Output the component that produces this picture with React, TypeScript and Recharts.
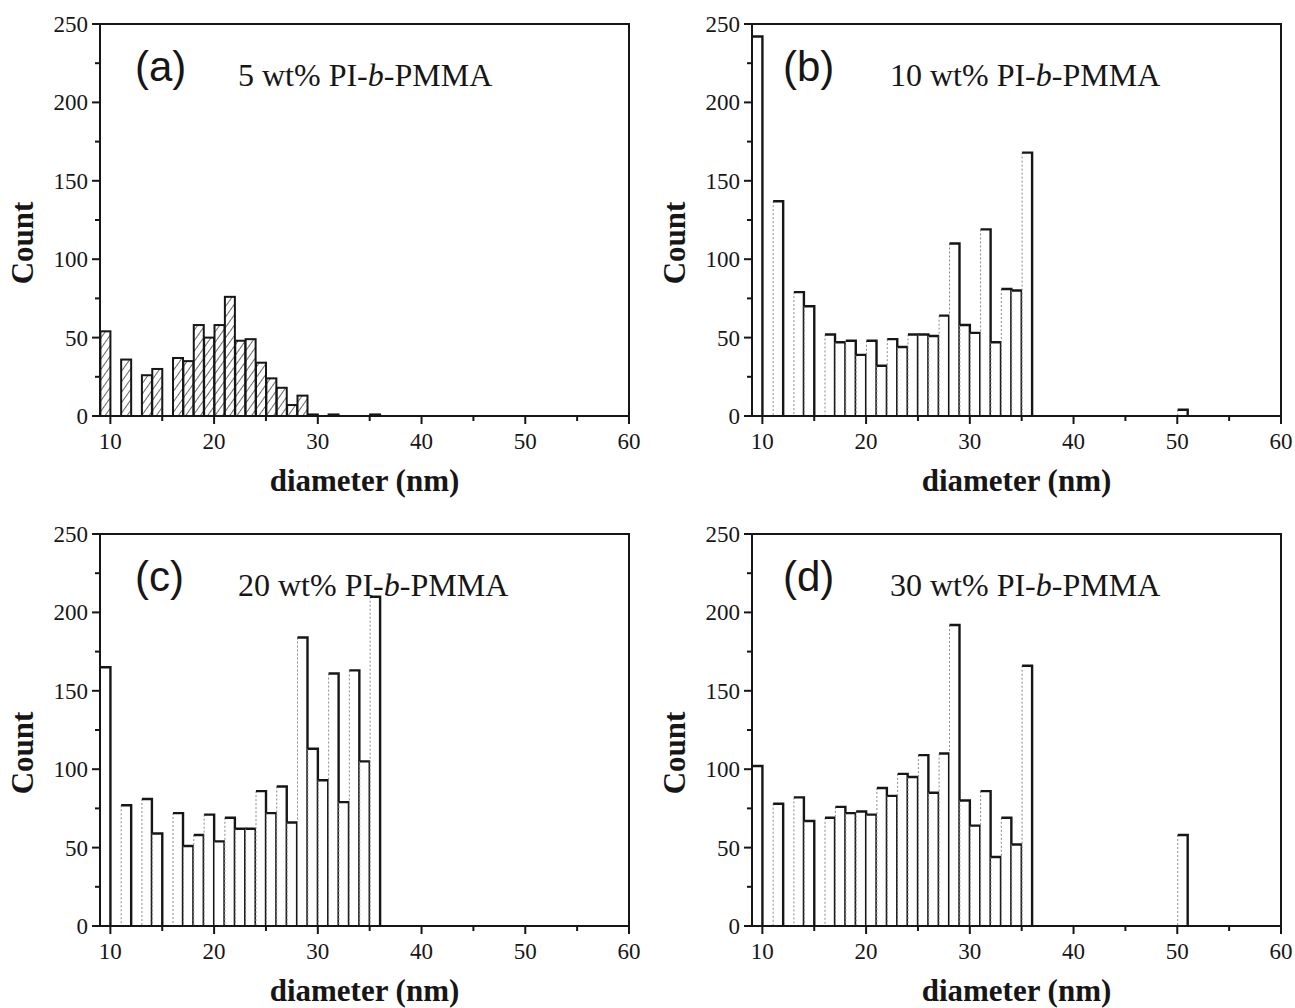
import React from "react";
import { BarChart, Bar, XAxis, YAxis, ReferenceArea, Label } from "recharts";

// bin centres (nm) and counts
const diametersA = [9.5, 11.5, 13.5, 14.5, 16.5, 17.5, 18.5, 19.5, 20.5, 21.5, 22.5, 23.5, 24.5, 25.5, 26.5, 27.5, 28.5, 29.5, 31.5, 35.5];
const countsA = [54, 36, 26, 30, 37, 35, 58, 50, 58, 76, 48, 49, 34, 24, 18, 7, 13, 1, 1, 1];

const diametersB = [9.5, 11.5, 13.5, 14.5, 16.5, 17.5, 18.5, 19.5, 20.5, 21.5, 22.5, 23.5, 24.5, 25.5, 26.5, 27.5, 28.5, 29.5, 30.5, 31.5, 32.5, 33.5, 34.5, 35.5, 50.5];
const countsB = [242, 137, 79, 70, 52, 47, 48, 39, 48, 32, 49, 44, 52, 52, 51, 64, 110, 58, 53, 119, 47, 81, 80, 168, 4];

const diametersC = [9.5, 11.5, 13.5, 14.5, 16.5, 17.5, 18.5, 19.5, 20.5, 21.5, 22.5, 23.5, 24.5, 25.5, 26.5, 27.5, 28.5, 29.5, 30.5, 31.5, 32.5, 33.5, 34.5, 35.5];
const countsC = [165, 77, 81, 59, 72, 51, 58, 71, 54, 69, 62, 62, 86, 72, 89, 66, 184, 113, 93, 161, 79, 163, 105, 210];

const diametersD = [9.5, 11.5, 13.5, 14.5, 16.5, 17.5, 18.5, 19.5, 20.5, 21.5, 22.5, 23.5, 24.5, 25.5, 26.5, 27.5, 28.5, 29.5, 30.5, 31.5, 32.5, 33.5, 34.5, 35.5, 50.5];
const countsD = [102, 78, 82, 67, 69, 76, 72, 73, 71, 88, 83, 97, 95, 109, 85, 110, 192, 80, 64, 86, 44, 69, 52, 166, 58];

const xTicks = [10, 15, 20, 25, 30, 35, 40, 45, 50, 55, 60];
const yTicks = [0, 25, 50, 75, 100, 125, 150, 175, 200, 225, 250];

const panelLetters = ["(a)", "(b)", "(c)", "(d)"];
const panelWt = ["5", "10", "20", "30"];

const SERIF = "'Liberation Serif', 'Times New Roman', serif";
const SANS = "'Liberation Sans', Arial, sans-serif";
const INK = "#161616";

const W = 652;
const H = 510;

const XTick = (props: any) => {
  const { x, y, payload } = props;
  const major = payload.value % 10 === 0;
  return (
    <g>
      <line x1={x} x2={x} y1={y} y2={y + (major ? 8 : 5)} stroke={INK} strokeWidth={2} />
      {major && (
        <text x={x} y={y + 33} textAnchor="middle" fontFamily={SERIF} fontSize={23} fill={INK}>
          {payload.value}
        </text>
      )}
    </g>
  );
};

const YTick = (props: any) => {
  const { x, y, payload } = props;
  const major = payload.value % 50 === 0;
  return (
    <g>
      <line x1={x} x2={x - (major ? 8 : 5)} y1={y} y2={y} stroke={INK} strokeWidth={2} />
      {major && (
        <text x={x - 12} y={y + 8} textAnchor="end" fontFamily={SERIF} fontSize={23} fill={INK}>
          {payload.value}
        </text>
      )}
    </g>
  );
};

const HatchBar = (props: any) => {
  const { x, y, width, height } = props;
  if (!height || height <= 0) return <g />;
  return <rect x={x} y={y} width={width} height={height} fill="url(#hatch)" stroke={INK} strokeWidth={2} />;
};

// white bars: grey dotted left side, black top and heavy black right side
const OpenBar = (props: any) => {
  const { x, y, width, height } = props;
  if (!height || height <= 0) return <g />;
  return (
    <g>
      <rect x={x} y={y} width={width} height={height} fill="#fff" />
      <line x1={x} x2={x} y1={y} y2={y + height} stroke="#8a8a8a" strokeWidth={1} strokeDasharray="2 2" />
      <path d={`M${x},${y} L${x + width},${y} L${x + width},${y + height}`} fill="none" stroke={INK} strokeWidth={2.4} />
    </g>
  );
};

const CountTitle = (props: any) => {
  const vb = props.viewBox;
  const cx = vb.x + 13;
  const cy = vb.y + vb.height / 2 + 23;
  return (
    <text
      x={cx}
      y={cy}
      transform={`rotate(-90 ${cx} ${cy})`}
      textAnchor="middle"
      fontFamily={SERIF}
      fontWeight="bold"
      fontSize={31}
      fill={INK}
    >
      Count
    </text>
  );
};

const DiameterTitle = (props: any) => {
  const vb = props.viewBox;
  return (
    <text
      x={vb.x + vb.width / 2}
      y={vb.y + 75}
      textAnchor="middle"
      fontFamily={SERIF}
      fontWeight="bold"
      fontSize={31}
      fill={INK}
    >
      diameter (nm)
    </text>
  );
};

function Panel({ idx, diameters, counts, hatched }: { idx: number; diameters: number[]; counts: number[]; hatched: boolean }) {
  const data = diameters.map((d, i) => ({ d, count: counts[i] }));
  return (
    <BarChart width={W} height={H} data={data} margin={{ top: 24, right: 23, left: 20, bottom: 14 }} barCategoryGap="4%">
      <defs>
        <pattern id="hatch" patternUnits="userSpaceOnUse" width="6" height="6" patternTransform="rotate(35)">
          <rect width="6" height="6" fill="#fff" />
          <line x1="0" y1="0" x2="0" y2="6" stroke={INK} strokeWidth={1.3} />
        </pattern>
      </defs>
      <XAxis
        dataKey="d"
        type="number"
        domain={[9, 60]}
        allowDataOverflow
        ticks={xTicks}
        interval={0}
        tickSize={0}
        tickMargin={0}
        tickLine={false}
        tick={XTick}
        height={80}
        axisLine={{ stroke: INK, strokeWidth: 2 }}
      >
        <Label content={DiameterTitle} />
      </XAxis>
      <YAxis
        type="number"
        domain={[0, 250]}
        allowDataOverflow
        ticks={yTicks}
        interval={0}
        tickSize={0}
        tickMargin={0}
        tickLine={false}
        tick={YTick}
        width={80}
        axisLine={{ stroke: INK, strokeWidth: 2 }}
      >
        <Label content={CountTitle} />
      </YAxis>
      <ReferenceArea x1={9} x2={60} y1={0} y2={250} fill="none" fillOpacity={0} stroke={INK} strokeWidth={2} />
      <Bar dataKey="count" isAnimationActive={false} shape={hatched ? HatchBar : OpenBar} />
      <text x={idx % 2 === 0 ? 135 : 131} y={81} fontFamily={SANS} fontSize={42} fill={INK}>
        {panelLetters[idx]}
      </text>
      <text x={238} y={86} fontFamily={SERIF} fontSize={32} fill={INK}>
        <tspan>{panelWt[idx]} wt% PI-</tspan>
        <tspan fontStyle="italic">b</tspan>
        <tspan>-PMMA</tspan>
      </text>
    </BarChart>
  );
}

export default function App() {
  const cell = (left: number, top: number): React.CSSProperties => ({ position: "absolute", left, top });
  return (
    <div style={{ position: "absolute", left: 0, top: 0, width: 1295, height: 1008, background: "#fff", overflow: "hidden" }}>
      <div style={cell(0, 0)}>
        <Panel idx={0} diameters={diametersA} counts={countsA} hatched />
      </div>
      <div style={cell(652, 0)}>
        <Panel idx={1} diameters={diametersB} counts={countsB} hatched={false} />
      </div>
      <div style={cell(0, 510)}>
        <Panel idx={2} diameters={diametersC} counts={countsC} hatched={false} />
      </div>
      <div style={cell(652, 510)}>
        <Panel idx={3} diameters={diametersD} counts={countsD} hatched={false} />
      </div>
    </div>
  );
}
